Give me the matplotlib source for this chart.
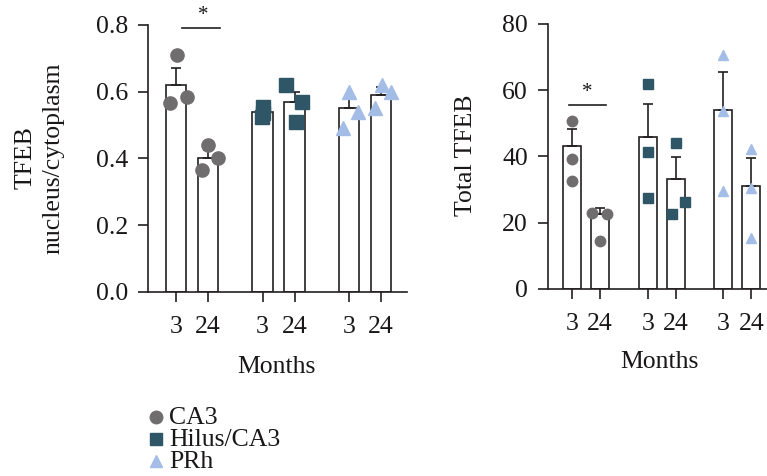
import matplotlib
matplotlib.use("Agg")
import matplotlib.pyplot as plt
from matplotlib.ticker import FormatStrFormatter

plt.rcParams["font.family"] = ["Liberation Serif", "DejaVu Serif"]
plt.rcParams["text.color"] = "#1a1718"

# ---- data ----------------------------------------------------------
regions = ["CA3", "Hilus/CA3", "PRh"]
months = ["3", "24"]

# left panel: TFEB nucleus/cytoplasm
ratio_mean = [0.62, 0.40, 0.54, 0.57, 0.55, 0.59]
ratio_err = [0.05, 0.025, 0.01, 0.03, 0.03, 0.025]
ratio_pts = [
    [0.71, 0.565, 0.585],
    [0.44, 0.365, 0.40],
    [0.555, 0.535, 0.525],
    [0.62, 0.57, 0.51],
    [0.60, 0.49, 0.54],
    [0.62, 0.55, 0.60],
]
ratio_jit = [
    [0.03, -0.19, 0.34],
    [0.0, -0.19, 0.31],
    [0.0, 0.03, -0.03],
    [-0.28, 0.22, 0.03],
    [0.0, -0.19, 0.28],
    [0.03, -0.19, 0.31],
]

# right panel: total TFEB
total_mean = [43.3, 22.7, 45.8, 33.3, 54.0, 31.2]
total_err = [5.0, 1.8, 9.9, 6.6, 11.5, 8.2]
total_pts = [
    [50.7, 39.3, 32.6],
    [22.8, 22.7, 14.5],
    [61.8, 41.3, 27.6],
    [44.0, 22.5, 26.1],
    [70.7, 53.7, 29.6],
    [42.2, 30.6, 15.5],
]
total_jit = [
    [0, 0, 0],
    [-0.3, 0.24, 0],
    [0, 0, 0],
    [0, -0.14, 0.32],
    [0, 0, 0],
    [0, 0, 0],
]

# ---- style ---------------------------------------------------------
COLORS = {"CA3": "#6f6d6d", "Hilus/CA3": "#2f5667", "PRh": "#a3bde7"}
MARKERS = {"CA3": "o", "Hilus/CA3": "s", "PRh": "^"}
XPOS = [0, 1, 2.7, 3.7, 5.4, 6.4]
BAR_W = 0.65
FS = 18.5
INK = "#231f20"

fig = plt.figure(figsize=(7.67, 4.76), dpi=100)
ax1 = fig.add_axes([0.193, 0.3866, 0.338, 0.561])
ax2 = fig.add_axes([0.7145, 0.393, 0.2855, 0.5566])


def panel(ax, means, errs, pts, jit, msize, ylim, yticks, fmt, xlim):
    for i, (m, e) in enumerate(zip(means, errs)):
        reg = regions[i // 2]
        ax.bar(XPOS[i], m, width=BAR_W, color="white", edgecolor=INK,
               linewidth=1.2, zorder=1)
        ax.errorbar(XPOS[i], m, yerr=[[0], [e]], color=INK, capsize=3.5,
                    elinewidth=1.2, capthick=1.2, zorder=2)
        xs = [XPOS[i] + j for j in jit[i]]
        ax.plot(xs, pts[i], linestyle="none", marker=MARKERS[reg],
                color=COLORS[reg], markersize=msize, clip_on=False,
                zorder=3)
    ax.set_xlim(*xlim)
    ax.set_ylim(*ylim)
    ax.set_yticks(yticks)
    if fmt:
        ax.yaxis.set_major_formatter(FormatStrFormatter(fmt))
    ax.set_xticks(XPOS)
    ax.set_xticklabels(months * 3)
    for s in ("top", "right"):
        ax.spines[s].set_visible(False)
    for s in ("left", "bottom"):
        ax.spines[s].set_linewidth(1.2)
        ax.spines[s].set_color(INK)
    ax.tick_params(length=7, width=1.2, color=INK, labelsize=FS,
                   labelcolor="#1a1718", pad=7.5)
    ax.tick_params(axis="x", pad=10)


panel(ax1, ratio_mean, ratio_err, ratio_pts, ratio_jit, 9.5,
      (0, 0.8), [0, 0.2, 0.4, 0.6, 0.8], "%.1f", (-0.875, 7.22))
panel(ax2, total_mean, total_err, total_pts, total_jit, 7.5,
      (0, 80), [0, 20, 40, 60, 80], None, (-0.86, 6.96))

# significance markers
ax1.plot([0.19, 1.375], [0.79, 0.79], color=INK, lw=1.2, clip_on=False)
ax1.text(0.85, 0.8, "*", ha="center", va="bottom", fontsize=15)
ax2.plot([-0.1, 1.2], [55.4, 55.4], color=INK, lw=1.2)
ax2.text(0.55, 56.5, "*", ha="center", va="bottom", fontsize=15)

# axis titles
fig.text(0.052, 0.668, "TFEB\nnucleus/cytoplasm", rotation=90,
         ha="center", va="center", fontsize=FS, linespacing=1.35)
fig.text(0.607, 0.674, "Total TFEB", rotation=90, ha="center",
         va="center", fontsize=FS)
fig.text(0.361, 0.229, "Months", ha="center", va="center", fontsize=FS)
fig.text(0.860, 0.239, "Months", ha="center", va="center", fontsize=FS)

# legend
lax = fig.add_axes([0, 0, 1, 1], facecolor="none")
lax.set_axis_off()
lax.set_xlim(0, 767)
lax.set_ylim(476, 0)
for k, reg in enumerate(regions):
    y = 417 + k * 22
    lax.plot([156], [y], marker=MARKERS[reg], color=COLORS[reg],
             markersize=9, linestyle="none")
    lax.text(169, y + 1, reg, ha="left", va="center", fontsize=FS)

fig.savefig("out.png", dpi=100, facecolor="white")
